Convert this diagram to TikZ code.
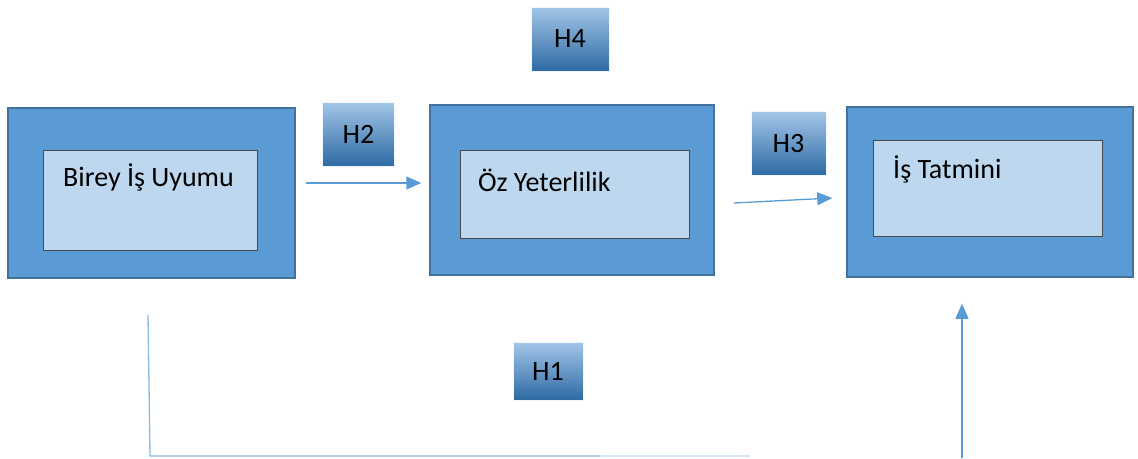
\documentclass[tikz,border=0pt]{standalone}
\usepackage{fontspec}
\setmainfont{Carlito}
\usepackage{xcolor}
\usetikzlibrary{
    arrows.meta,
    positioning
}

\definecolor{outerblue}{HTML}{5B9BD5}
\definecolor{outeredge}{HTML}{41719C}
\definecolor{innerblue}{HTML}{BDD7EE}
\definecolor{inneredge}{HTML}{4A4A4A}
\definecolor{hyptop}{HTML}{A3C6E8}
\definecolor{hypbottom}{HTML}{2D6AA3}
\definecolor{linkblue}{HTML}{5B9BD5}

\begin{document}
\begin{tikzpicture}[
    x=1pt, y=-1pt,
    font=\fontsize{28}{33}\selectfont,
    outerbox/.style={
        rectangle,
        draw=outeredge,
        line width=1.5pt,
        fill=outerblue,
        minimum width=#1,
        minimum height=170pt,
        inner sep=0pt
    },
    innerbox/.style={
        rectangle,
        draw=inneredge,
        line width=0.9pt,
        fill=innerblue,
        minimum width=#1,
        inner sep=0pt
    },
    hypbox/.style={
        rectangle,
        draw=white!85!hyptop,
        line width=0.6pt,
        top color=hyptop,
        bottom color=hypbottom,
        minimum width=72pt,
        minimum height=64pt,
        inner sep=0pt
    },
    label/.style={
        anchor=base west,
        inner sep=0pt,
        text=black
    },
    arrow/.style={
        -{Triangle[length=15pt,width=13pt]},
        line width=1.3pt,
        draw=linkblue
    },
    link/.style={
        line width=1.3pt,
        draw=linkblue!70
    }
]
\useasboundingbox (0,0) rectangle (1138,458);

% =========================================================
% Constructs
% =========================================================
\node[outerbox=287pt] (birey) at (151.5,193) {};
\node[innerbox=214pt, minimum height=100pt] (bireyin) at (150,200) {};
\node[label] (bireytxt) at (63,186) {Birey İş Uyumu};

\node[outerbox=284pt] (oz) at (572,190) {};
\node[innerbox=229pt, minimum height=88pt] (ozin) at (574.5,194) {};
\node[label] (oztxt) at (478,191) {Öz Yeterlilik};

\node[outerbox=286pt] (tatmin) at (990,192) {};
\node[innerbox=229pt, minimum height=96pt] (tatminin) at (987.5,188) {};
\node[label] (tatmintxt) at (893,178) {İş Tatmini};

% =========================================================
% Hypotheses
% =========================================================
\node[hypbox] (h2) at (358.5,134) {H2};
\node[hypbox, minimum width=78pt] (h4) at (570,39) {H4};
\node[hypbox, minimum width=75pt] (h3) at (788.5,143.5) {H3};
\node[hypbox, minimum width=70pt, minimum height=58pt] (h1) at (548,371) {H1};

% =========================================================
% Paths
% =========================================================
\draw[arrow] ([xshift=10pt]birey.east |- 0,183) -- ([xshift=-8pt]oz.west |- 0,183);
\draw[arrow] ([xshift=19pt]oz.east |- 0,203) -- ([xshift=-14pt]tatmin.west |- 0,198);

\coordinate (h1start) at (148,315);
\coordinate (h1corner) at (150,456);
\coordinate (h1fade) at (600,456);
\coordinate (h1turn) at (750,456);
\coordinate (h1base) at (962,458);
\draw[link] (h1start) -- (h1corner) -- (h1fade);
\draw[link, draw=linkblue!25] (h1fade) -- (h1turn);
\draw[arrow] (h1base) -- ([yshift=-26pt]tatmin.south -| h1base);

\end{tikzpicture}
\end{document}
